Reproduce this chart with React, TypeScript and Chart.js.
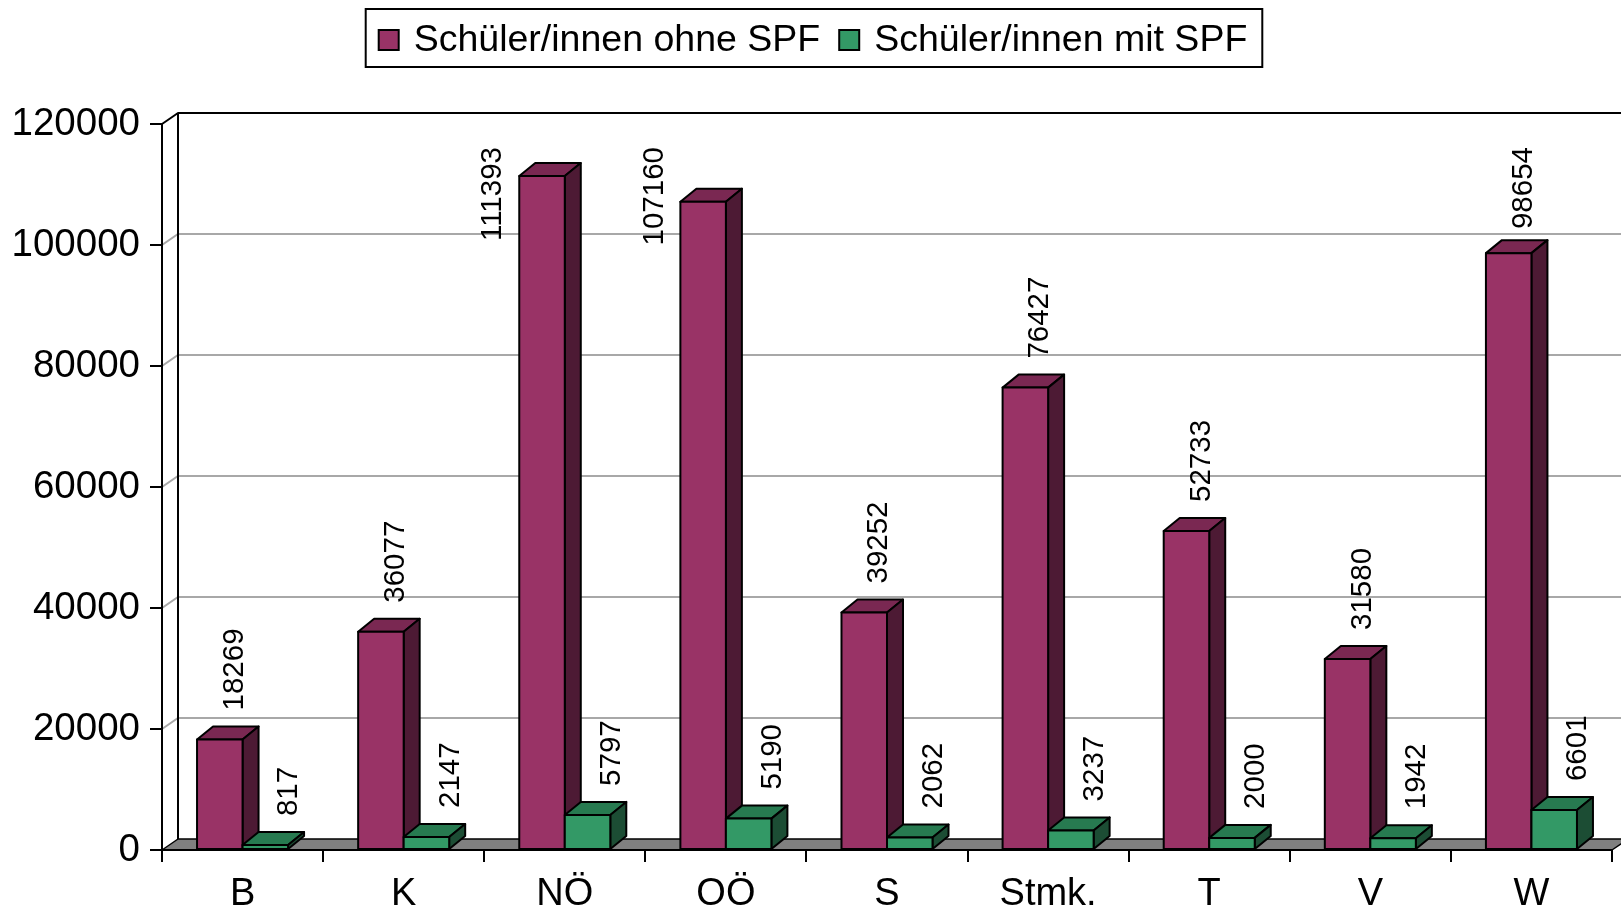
import React, { useEffect, useRef } from 'react';
import { Chart, registerables } from 'chart.js';

Chart.register(...registerables);

const categories = ['B', 'K', 'NÖ', 'OÖ', 'S', 'Stmk.', 'T', 'V', 'W'];
const seriesLabels = ['Schüler/innen ohne SPF', 'Schüler/innen mit SPF'];
const ohneSPF = [18269, 36077, 111393, 107160, 39252, 76427, 52733, 31580, 98654];
const mitSPF = [817, 2147, 5797, 5190, 2062, 3237, 2000, 1942, 6601];
const yTicks = [0, 20000, 40000, 60000, 80000, 100000, 120000];

const FONT = '"Liberation Sans", Arial, Helvetica, sans-serif';
const DX = 16;
const WALL_DY = 11;
const BAR_DY = 13;

const faceColors = [
  { front: '#993366', top: '#7a2852', side: '#4d1a34' },
  { front: '#339966', top: '#277a50', side: '#1c4d34' },
];
const labelOffsets = [15, 24];

function poly(ctx: CanvasRenderingContext2D, pts: number[][], fill: string) {
  ctx.beginPath();
  ctx.moveTo(pts[0][0], pts[0][1]);
  for (let i = 1; i < pts.length; i++) ctx.lineTo(pts[i][0], pts[i][1]);
  ctx.closePath();
  ctx.fillStyle = fill;
  ctx.fill();
  ctx.stroke();
}

const threeD = {
  id: 'threeD',
  beforeDraw(chart: any) {
    const { ctx, chartArea } = chart;
    const { left, right, top, bottom } = chartArea;
    const y = chart.scales.y;
    ctx.save();
    ctx.fillStyle = '#ffffff';
    ctx.fillRect(0, 0, chart.width, chart.height);
    const bx = left + DX;
    const rb = right + DX;
    ctx.strokeStyle = '#a8a8a8';
    ctx.lineWidth = 2;
    yTicks.forEach((v) => {
      if (v === yTicks[0] || v === yTicks[yTicks.length - 1]) return;
      const py = y.getPixelForValue(v);
      ctx.beginPath();
      ctx.moveTo(left, py);
      ctx.lineTo(bx, py - WALL_DY);
      ctx.lineTo(rb, py - WALL_DY);
      ctx.stroke();
    });
    ctx.strokeStyle = '#000';
    ctx.lineWidth = 1.5;
    ctx.lineJoin = 'round';
    poly(ctx, [[left, bottom], [bx, bottom - WALL_DY], [rb, bottom - WALL_DY], [right, bottom]], '#808080');
    ctx.lineWidth = 2;
    ctx.beginPath();
    ctx.moveTo(bx, bottom - WALL_DY);
    ctx.lineTo(bx, top - WALL_DY);
    ctx.moveTo(left, top);
    ctx.lineTo(bx, top - WALL_DY);
    ctx.lineTo(rb, top - WALL_DY);
    ctx.stroke();
    ctx.restore();
  },
  afterDatasetsDraw(chart: any) {
    const { ctx } = chart;
    const metas = [chart.getDatasetMeta(0), chart.getDatasetMeta(1)];
    ctx.save();
    ctx.strokeStyle = '#000';
    ctx.lineWidth = 2;
    ctx.lineJoin = 'round';
    for (let i = 0; i < categories.length; i++) {
      metas.forEach((meta: any, d: number) => {
        const el = meta.data[i];
        const w = el.width;
        const x0 = el.x - w / 2;
        const x1 = el.x + w / 2;
        const yT = el.y;
        const yB = el.base;
        const c = faceColors[d];
        poly(ctx, [[x0, yT], [x0 + DX, yT - BAR_DY], [x1 + DX, yT - BAR_DY], [x1, yT]], c.top);
        poly(ctx, [[x1, yT], [x1 + DX, yT - BAR_DY], [x1 + DX, yB - BAR_DY], [x1, yB]], c.side);
        poly(ctx, [[x0, yT], [x1, yT], [x1, yB], [x0, yB]], c.front);
      });
    }
    ctx.font = `29.5px ${FONT}`;
    ctx.fillStyle = '#000';
    ctx.textAlign = 'left';
    ctx.textBaseline = 'middle';
    const minTop = 147;
    metas.forEach((meta: any, d: number) => {
      const values = chart.data.datasets[d].data;
      meta.data.forEach((el: any, i: number) => {
        const text = String(values[i]);
        const tw = ctx.measureText(text).width;
        const topBack = el.y - BAR_DY;
        let bottomY = topBack - 16;
        let x = el.x + labelOffsets[d];
        if (bottomY - tw < minTop) {
          bottomY = minTop + tw;
          if (bottomY > topBack - 6) x = el.x - el.width / 2 - 26;
        }
        ctx.save();
        ctx.translate(x, bottomY);
        ctx.rotate(-Math.PI / 2);
        ctx.fillText(text, 0, 0);
        ctx.restore();
      });
    });
    ctx.restore();
  },
  afterDraw(chart: any) {
    const { ctx } = chart;
    ctx.save();
    ctx.font = `37.5px ${FONT}`;
    const w1 = ctx.measureText(seriesLabels[0]).width;
    const w2 = ctx.measureText(seriesLabels[1]).width;
    const padL = 13, mk = 20, gapMk = 15, gapItem = 19, padR = 15;
    const total = padL + mk + gapMk + w1 + gapItem + mk + gapMk + w2 + padR;
    const cx = 814;
    const boxL = cx - total / 2;
    const boxT = 9;
    const boxH = 58;
    ctx.strokeStyle = '#000';
    ctx.lineWidth = 2;
    ctx.strokeRect(boxL, boxT, total, boxH);
    const midY = boxT + boxH / 2 + 2;
    let x = boxL + padL;
    [w1, w2].forEach((w, d) => {
      ctx.fillStyle = faceColors[d].front;
      ctx.fillRect(x, midY - mk / 2, mk, mk);
      ctx.lineWidth = 2;
      ctx.strokeRect(x, midY - mk / 2, mk, mk);
      x += mk + gapMk;
      ctx.fillStyle = '#000';
      ctx.textAlign = 'left';
      ctx.textBaseline = 'middle';
      ctx.fillText(seriesLabels[d], x, midY + 1);
      x += w + gapItem;
    });
    ctx.restore();
  },
};

export default function App() {
  const ref = useRef<HTMLCanvasElement | null>(null);
  useEffect(() => {
    if (!ref.current) return;
    const chart = new Chart(ref.current, {
      type: 'bar',
      data: {
        labels: categories,
        datasets: [
          { label: seriesLabels[0], data: ohneSPF, backgroundColor: 'rgba(0,0,0,0)', borderWidth: 0 },
          { label: seriesLabels[1], data: mitSPF, backgroundColor: 'rgba(0,0,0,0)', borderWidth: 0 },
        ],
      },
      options: {
        responsive: false,
        animation: false,
        devicePixelRatio: 1,
        events: [],
        layout: { padding: { top: 124, right: 9, left: 0, bottom: 0 } },
        datasets: { bar: { categoryPercentage: 0.565, barPercentage: 1 } },
        plugins: { legend: { display: false }, tooltip: { enabled: false } },
        scales: {
          x: {
            offset: true,
            grid: { offset: true, drawOnChartArea: false, drawTicks: true, tickLength: 12, color: '#000', lineWidth: 2 },
            border: { display: true, color: '#000', width: 2 },
            ticks: { font: { family: FONT, size: 38 }, color: '#000', padding: 10, maxRotation: 0, autoSkip: false },
            afterFit: (s: any) => { s.height = 61; },
          },
          y: {
            min: yTicks[0],
            max: yTicks[yTicks.length - 1],
            grid: { drawOnChartArea: false, drawTicks: true, tickLength: 12, color: '#000', lineWidth: 2 },
            border: { display: true, color: '#000', width: 2 },
            ticks: {
              stepSize: yTicks[1] - yTicks[0],
              font: { family: FONT, size: 38.5 },
              color: '#000',
              padding: 10,
              callback: (v: any) => String(v),
            },
            afterFit: (s: any) => { s.width = 162; },
          },
        },
      },
      plugins: [threeD],
    } as any);
    return () => chart.destroy();
  }, []);
  return (
    <canvas
      ref={ref}
      width={1621}
      height={911}
      style={{ position: 'absolute', left: 0, top: 0, width: 1621, height: 911, display: 'block' }}
    />
  );
}
